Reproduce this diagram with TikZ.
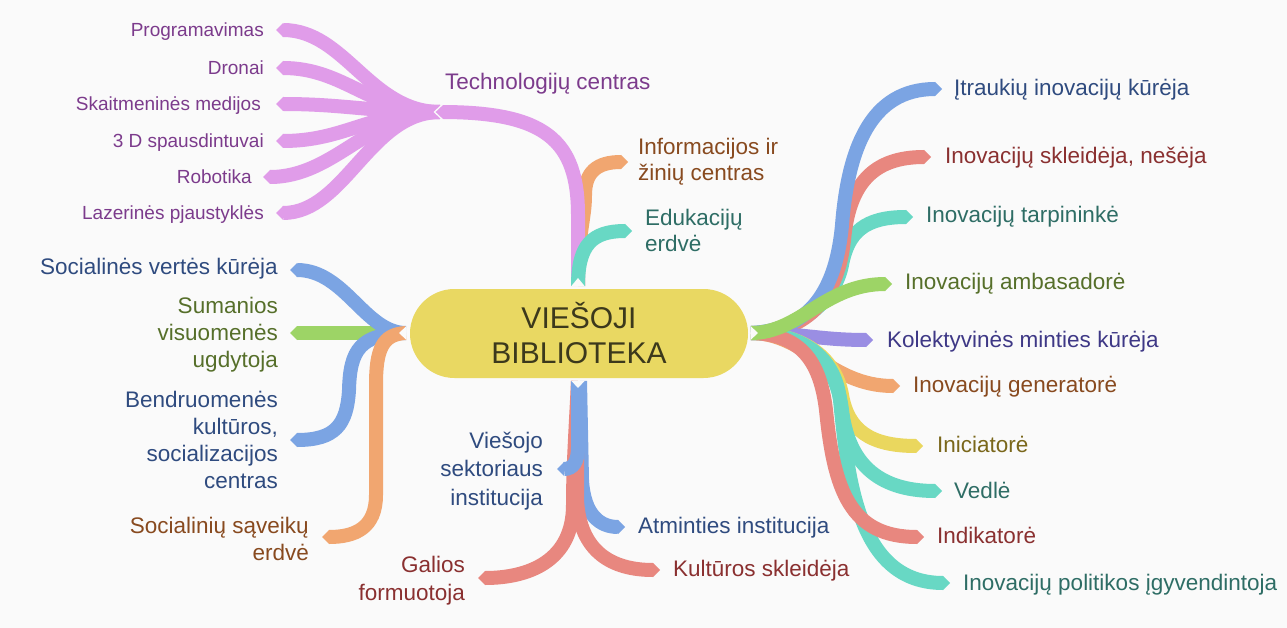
\documentclass[tikz,border=0pt]{standalone}
\usepackage{fontspec}
\setmainfont{Liberation Sans}
\usetikzlibrary{arrows.meta}
\definecolor{bg}{HTML}{FAFAFA}
\definecolor{cnode}{HTML}{E9D862}
\definecolor{tnode}{HTML}{3C391C}
\definecolor{pinkR}{HTML}{E09CE9}
\definecolor{orangeR}{HTML}{F1A670}
\definecolor{tealR}{HTML}{68D8C4}
\definecolor{blueR}{HTML}{7BA4E3}
\definecolor{redR}{HTML}{E8877F}
\definecolor{greenR}{HTML}{9DD466}
\definecolor{yellowR}{HTML}{EAD75E}
\definecolor{lavR}{HTML}{9A8EE3}
\definecolor{pinkT}{HTML}{7C3B8C}
\definecolor{orangeT}{HTML}{884A1F}
\definecolor{tealT}{HTML}{2E6D65}
\definecolor{blueT}{HTML}{2F4B7F}
\definecolor{redT}{HTML}{8A3030}
\definecolor{greenT}{HTML}{566F2A}
\definecolor{yellowT}{HTML}{7A671B}
\definecolor{lavT}{HTML}{3E3886}
\begin{document}
\begin{tikzpicture}[x=1pt,y=-1pt,
  rib/.style={line width=14pt,-{Triangle[length=7pt,width=14pt,line width=0pt]}},
  notch/.style={fill=bg,draw=none},
  big/.style={inner sep=0pt,font=\fontsize{22.5}{27}\selectfont},
  small/.style={inner sep=0pt,font=\fontsize{19}{23}\selectfont},
]
\fill[bg] (0,0) rectangle (1287,628);
\useasboundingbox (0,0) rectangle (1287,628);

% hubs
\coordinate (hT) at (578,286);
\coordinate (hB) at (578,381);
\coordinate (hL) at (406,333);
\coordinate (hR) at (751,333);
\coordinate (hTech) at (440,112);

% tips
\coordinate (tTech) at (434,112);
\coordinate (tProg) at (276,30);
\coordinate (tDron) at (276,68);
\coordinate (tSkait) at (276,104);
\coordinate (t3D) at (276,141);
\coordinate (tRobo) at (263,177);
\coordinate (tLaz) at (276,213);
\coordinate (tInfo) at (628,162);
\coordinate (tEdu) at (632,231);
\coordinate (tSocV) at (290,270);
\coordinate (tSum) at (290,333);
\coordinate (tBendr) at (290,440);
\coordinate (tSocS) at (322,537);
\coordinate (tVies) at (557,469);
\coordinate (tAtm) at (625,527);
\coordinate (tGal) at (478,578);
\coordinate (tKult) at (660,570);
\coordinate (tItr) at (942,89);
\coordinate (tSkl) at (931,157);
\coordinate (tTarp) at (913,217);
\coordinate (tAmb) at (892,284);
\coordinate (tKol) at (873,340);
\coordinate (tGen) at (900,386);
\coordinate (tInic) at (923,446);
\coordinate (tVed) at (942,491);
\coordinate (tInd) at (924,537);
\coordinate (tPol) at (950,583);

% technology children
\draw[rib,pinkR] (hTech) .. controls (370,112) and (345,30) .. (tProg);
\draw[rib,pinkR] (hTech) .. controls (370,112) and (345,68) .. (tDron);
\draw[rib,pinkR] (hTech) .. controls (370,112) and (345,104) .. (tSkait);
\draw[rib,pinkR] (hTech) .. controls (370,112) and (345,141) .. (t3D);
\draw[rib,pinkR] (hTech) .. controls (370,112) and (335,177) .. (tRobo);
\draw[rib,pinkR] (hTech) .. controls (370,112) and (345,213) .. (tLaz);

% top branches
\draw[rib,orangeR] (hT) .. controls (578,230) and (585,220) .. (585,195) .. controls (585,172) and (597,162) .. (tInfo);
\draw[rib,pinkR] (hT) -- (578,215) .. controls (578,140) and (545,112) .. (tTech);
\draw[rib,tealR] (hT) .. controls (578,245) and (592,231) .. (tEdu);
\draw[bg,line width=1.3pt] (444,103) -- (434.5,112) -- (444,121);

% left branches
\draw[rib,greenR] (hL) -- (tSum);
\draw[rib,blueR] (hL) .. controls (365,333) and (345,270) .. (tSocV);
\draw[rib,blueR] (hL) .. controls (360,334) and (350,350) .. (349,390) .. controls (347,425) and (335,440) .. (tBendr);
\draw[rib,orangeR] (hL) .. controls (382,334) and (376,350) .. (376,385) -- (376,495) .. controls (376,528) and (355,537) .. (tSocS);

% bottom branches
\draw[rib,blueR] (580,381) -- (582,480) .. controls (584,515) and (600,527) .. (tAtm);
\draw[rib,redR] (hB) .. controls (575,440) and (573,470) .. (573,505) .. controls (573,560) and (530,578) .. (tGal);
\draw[rib,redR] (hB) .. controls (577,440) and (577,470) .. (577,500) .. controls (580,552) and (612,570) .. (tKult);
\draw[rib,blueR] (hB) -- (578,447) .. controls (578,462) and (573,469) .. (tVies);

% right branches
\draw[rib,tealR] (hR) .. controls (800,333) and (835,300) .. (842,265) .. controls (848,232) and (865,217) .. (tTarp);
\draw[rib,redR] (hR) .. controls (810,333) and (838,295) .. (844,240) .. controls (849,185) and (872,157) .. (tSkl);
\draw[rib,blueR] (hR) .. controls (810,330) and (836,290) .. (842,225) .. controls (848,150) and (870,89) .. (tItr);
\draw[rib,lavR] (hR) .. controls (800,333) and (820,340) .. (tKol);
\draw[rib,orangeR] (hR) .. controls (805,333) and (830,386) .. (tGen);
\draw[rib,yellowR] (hR) .. controls (800,333) and (835,355) .. (842,395) .. controls (848,430) and (870,446) .. (tInic);
\draw[rib,tealR] (hR) .. controls (800,333) and (835,355) .. (842,410) .. controls (848,460) and (875,491) .. (tVed);
\draw[rib,tealR] (hR) .. controls (800,333) and (835,355) .. (840,400) .. controls (848,480) and (858,583) .. (tPol);
\draw[rib,redR] (hR) .. controls (800,334) and (820,360) .. (826,410) .. controls (834,490) and (850,537) .. (tInd);
\draw[rib,greenR] (hR) .. controls (800,333) and (825,284) .. (tAmb);

% notches
\fill[notch] (571,286.5) -- (578,278) -- (585,286.5) -- cycle;
\fill[notch] (571,380.5) -- (578,388) -- (585,380.5) -- cycle;
\fill[notch] (406.5,326) -- (399,333) -- (406.5,340) -- cycle;
\fill[notch] (750.5,326) -- (758,333) -- (750.5,340) -- cycle;

% central node
\node[fill=cnode,rounded corners=44.5pt,minimum width=338pt,minimum height=89pt,inner sep=0pt,
  align=center,text=tnode,font=\fontsize{30}{35}\selectfont] (c) at (579,333.5) {VIEŠOJI\\BIBLIOTEKA};

% labels (base anchor of a multi-line node = baseline of its last line)
\node[big,text=pinkT,anchor=base west] (lTech) at (445,90) {Technologijų centras};
\node[small,text=pinkT,anchor=base east] (lProg) at (264,36.5) {Programavimas};
\node[small,text=pinkT,anchor=base east] (lDron) at (264,74.5) {Dronai};
\node[small,text=pinkT,anchor=base east] (lSkait) at (261,110.5) {Skaitmeninės medijos};
\node[small,text=pinkT,anchor=base east] (l3D) at (264,147.5) {3 D spausdintuvai};
\node[small,text=pinkT,anchor=base east] (lRobo) at (252,183.5) {Robotika};
\node[small,text=pinkT,anchor=base east] (lLaz) at (264,219.5) {Lazerinės pjaustyklės};

\node[big,text=orangeT,anchor=base west,align=left,font=\fontsize{22.5}{26}\selectfont] (lInfo) at (638,181) {Informacijos ir\\žinių centras};
\node[big,text=tealT,anchor=base west,align=left,font=\fontsize{22.5}{26}\selectfont] (lEdu) at (645,252) {Edukacijų\\erdvė};

\node[big,text=blueT,anchor=base east] (lSocV) at (278,275) {Socialinės vertės kūrėja};
\node[big,text=greenT,anchor=base east,align=right] (lSum) at (278,367) {Sumanios\\visuomenės\\ugdytoja};
\node[big,text=blueT,anchor=base east,align=right] (lBendr) at (278,488) {Bendruomenės\\kultūros,\\socializacijos\\centras};
\node[big,text=orangeT,anchor=base east,align=right] (lSocS) at (309,560) {Socialinių sąveikų\\erdvė};

\node[big,text=blueT,anchor=base east,align=right,font=\fontsize{22.5}{28.5}\selectfont] (lVies) at (543,505) {Viešojo\\sektoriaus\\institucija};
\node[big,text=blueT,anchor=base west] (lAtm) at (638,533) {Atminties institucija};
\node[big,text=redT,anchor=base east,align=right,font=\fontsize{22.5}{28}\selectfont] (lGal) at (465,600) {Galios\\formuotoja};
\node[big,text=redT,anchor=base west] (lKult) at (673,576) {Kultūros skleidėja};

\node[big,text=blueT,anchor=base west] (lItr) at (954,96) {Įtraukių inovacijų kūrėja};
\node[big,text=redT,anchor=base west] (lSkl) at (945,164) {Inovacijų skleidėja, nešėja};
\node[big,text=tealT,anchor=base west] (lTarp) at (926,223) {Inovacijų tarpininkė};
\node[big,text=greenT,anchor=base west] (lAmb) at (905,290) {Inovacijų ambasadorė};
\node[big,text=lavT,anchor=base west] (lKol) at (887,347) {Kolektyvinės minties kūrėja};
\node[big,text=orangeT,anchor=base west] (lGen) at (913,392) {Inovacijų generatorė};
\node[big,text=yellowT,anchor=base west] (lInic) at (937,452) {Iniciatorė};
\node[big,text=tealT,anchor=base west] (lVed) at (954,498) {Vedlė};
\node[big,text=redT,anchor=base west] (lInd) at (937,543) {Indikatorė};
\node[big,text=tealT,anchor=base west] (lPol) at (963,590) {Inovacijų politikos įgyvendintoja};
\end{tikzpicture}
\end{document}
